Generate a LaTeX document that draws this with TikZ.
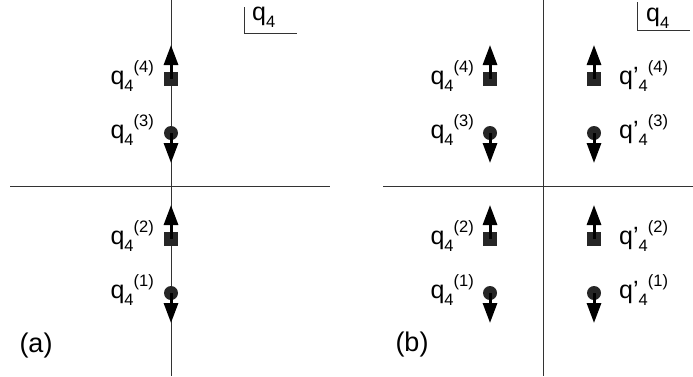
\documentclass[tikz,border=0pt]{standalone}
\usepackage{fontspec}
\setmainfont{Liberation Sans}
\usetikzlibrary{arrows.meta}
\newcommand{\smallfs}{\fontsize{16.5}{16.5}\selectfont}
\newcommand{\qlab}[2]{q#1\raisebox{-0.3em}{\smallfs 4}\raisebox{0.45em}{\smallfs(#2)}}
\tikzset{
  lbl/.style={font=\fontsize{25}{25}\selectfont, inner sep=0pt},
  panel/.style={font=\fontsize{27}{27}\selectfont, inner sep=0pt},
  axis/.style={line width=0.9pt, black!80},
  sq/.style={rectangle, fill=black!85, minimum size=14pt, inner sep=0pt},
  dot/.style={circle, fill=black!85, minimum size=14pt, inner sep=0pt},
  spin/.style={line width=3pt, -{Triangle[length=20pt,width=14pt]}}
}
\begin{document}
\begin{tikzpicture}[x=1pt,y=-1pt]
\useasboundingbox (0,0) rectangle (693,376);
% panel (a) axes
\coordinate (a1) at (171,0); \coordinate (a2) at (171,376);
\coordinate (a3) at (10,186); \coordinate (a4) at (330,186);
\draw[axis] (a1) -- (a2);
\draw[axis] (a3) -- (a4);
\coordinate (ca1) at (244,7); \coordinate (ca2) at (244,33); \coordinate (ca3) at (297,33);
\draw[axis] (ca1) -- (ca2) -- (ca3);
\node[lbl, anchor=base west] (qa) at (252,20) {q\raisebox{-0.3em}{\smallfs 4}};
% panel (a) elements
\node[sq] (s4) at (171,79) {};
\node[dot] (c3) at (171,133) {};
\node[sq] (s2) at (171,239) {};
\node[dot] (c1) at (171,293) {};
\coordinate (t4) at (171,45); \coordinate (t3) at (171,163);
\coordinate (t2) at (171,205); \coordinate (t1) at (171,323);
\draw[spin] (s4.center) -- (t4);
\draw[spin] (c3.center) -- (t3);
\draw[spin] (s2.center) -- (t2);
\draw[spin] (c1.center) -- (t1);
\node[lbl, anchor=base east] (l4) at (154,84) {\qlab{}{4}};
\node[lbl, anchor=base east] (l3) at (154,138) {\qlab{}{3}};
\node[lbl, anchor=base east] (l2) at (154,244) {\qlab{}{2}};
\node[lbl, anchor=base east] (l1) at (154,298) {\qlab{}{1}};
\node[panel] (pa) at (36,346) {(a)};
% panel (b) axes
\coordinate (b1) at (543,0); \coordinate (b2) at (543,376);
\coordinate (b3) at (383,186); \coordinate (b4) at (693,186);
\draw[axis] (b1) -- (b2);
\draw[axis] (b3) -- (b4);
\coordinate (cb1) at (637,2); \coordinate (cb2) at (637,30); \coordinate (cb3) at (690,30);
\draw[axis] (cb1) -- (cb2) -- (cb3);
\node[lbl, anchor=base west] (qb) at (646,21) {q\raisebox{-0.3em}{\smallfs 4}};
% panel (b) left column
\node[sq] (bs4) at (490,79) {};
\node[dot] (bc3) at (490,133) {};
\node[sq] (bs2) at (490,239) {};
\node[dot] (bc1) at (490,293) {};
\coordinate (bt4) at (490,45); \coordinate (bt3) at (490,163);
\coordinate (bt2) at (490,205); \coordinate (bt1) at (490,323);
\draw[spin] (bs4.center) -- (bt4);
\draw[spin] (bc3.center) -- (bt3);
\draw[spin] (bs2.center) -- (bt2);
\draw[spin] (bc1.center) -- (bt1);
\node[lbl, anchor=base east] (bl4) at (474,84) {\qlab{}{4}};
\node[lbl, anchor=base east] (bl3) at (474,138) {\qlab{}{3}};
\node[lbl, anchor=base east] (bl2) at (474,244) {\qlab{}{2}};
\node[lbl, anchor=base east] (bl1) at (474,298) {\qlab{}{1}};
% panel (b) right column
\node[sq] (rs4) at (594,79) {};
\node[dot] (rc3) at (594,133) {};
\node[sq] (rs2) at (594,239) {};
\node[dot] (rc1) at (594,293) {};
\coordinate (rt4) at (594,45); \coordinate (rt3) at (594,163);
\coordinate (rt2) at (594,205); \coordinate (rt1) at (594,323);
\draw[spin] (rs4.center) -- (rt4);
\draw[spin] (rc3.center) -- (rt3);
\draw[spin] (rs2.center) -- (rt2);
\draw[spin] (rc1.center) -- (rt1);
\node[lbl, anchor=base west] (rl4) at (619,84) {\qlab{’}{4}};
\node[lbl, anchor=base west] (rl3) at (619,138) {\qlab{’}{3}};
\node[lbl, anchor=base west] (rl2) at (619,244) {\qlab{’}{2}};
\node[lbl, anchor=base west] (rl1) at (619,298) {\qlab{’}{1}};
\node[panel] (pb) at (412,345) {(b)};
\end{tikzpicture}
\end{document}
